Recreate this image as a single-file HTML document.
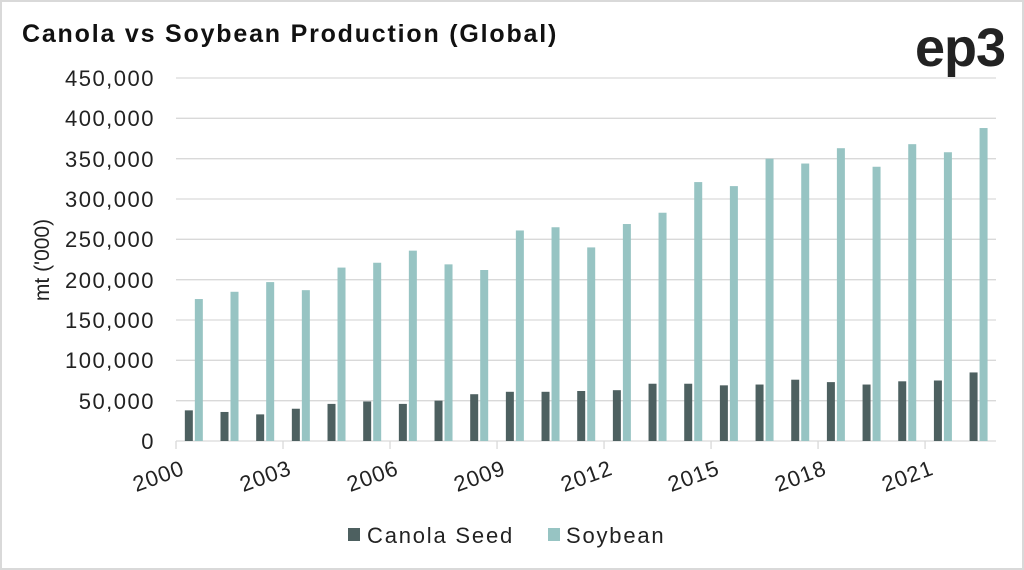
<!DOCTYPE html>
<html><head><style>
body{margin:0;background:#fff;}
svg{display:block;font-family:"Liberation Sans",sans-serif;}
</style></head><body>
<svg width="1024" height="570" xmlns="http://www.w3.org/2000/svg">
<rect x="1" y="1" width="1022" height="568" fill="#fff" stroke="#d9d9d9" stroke-width="2"/>
<text x="22" y="42" font-size="25" font-weight="bold" fill="#111" letter-spacing="1.8">Canola vs Soybean Production (Global)</text>
<text x="1005" y="66" font-size="54" font-weight="bold" fill="#222" text-anchor="end" letter-spacing="-1">ep3</text>
<g stroke="#d9d9d9" stroke-width="1.3">
<line x1="176" x2="996" y1="78" y2="78"/><line x1="176" x2="996" y1="118.3" y2="118.3"/>
<line x1="176" x2="996" y1="158.7" y2="158.7"/><line x1="176" x2="996" y1="199" y2="199"/>
<line x1="176" x2="996" y1="239.3" y2="239.3"/><line x1="176" x2="996" y1="279.7" y2="279.7"/>
<line x1="176" x2="996" y1="320" y2="320"/><line x1="176" x2="996" y1="360.3" y2="360.3"/>
<line x1="176" x2="996" y1="400.7" y2="400.7"/><line x1="176" x2="996" y1="441" y2="441"/>
</g>
<g font-size="22" fill="#222" text-anchor="end" letter-spacing="1.5">
<text x="155" y="86">450,000</text><text x="155" y="126">400,000</text><text x="155" y="167">350,000</text>
<text x="155" y="207">300,000</text><text x="155" y="247">250,000</text><text x="155" y="288">200,000</text>
<text x="155" y="328">150,000</text><text x="155" y="368">100,000</text><text x="155" y="409">50,000</text>
<text x="155" y="449">0</text>
</g>
<text transform="translate(49,260) rotate(-90)" font-size="21" fill="#222" text-anchor="middle">mt ('000)</text>
<g id="bars"></g>
<g id="ticks" stroke="#d9d9d9" stroke-width="1.3"></g>
<g id="xl" font-size="22" fill="#222" text-anchor="end" letter-spacing="1"></g>
<rect x="348" y="528" width="12" height="13" fill="#4d6060"/>
<text x="367" y="543" font-size="22" fill="#222" letter-spacing="1.8">Canola Seed</text>
<rect x="548" y="528" width="12" height="13" fill="#97c4c3"/>
<text x="566" y="543" font-size="22" fill="#222" letter-spacing="1.8">Soybean</text>
<script>
var soy=[176,185,197,187,215,221,236,219,212,261,265,240,269,283,321,316,350,344,363,340,368,358,388];
var can=[38,36,33,40,46,49,46,50,58,61,61,62,63,71,71,69,70,76,73,70,74,75,85];
var ns="http://www.w3.org/2000/svg",b=document.getElementById("bars"),t=document.getElementById("ticks"),xl=document.getElementById("xl");
var k=40.33/50,w=35.67;
function r(x,h,c){var e=document.createElementNS(ns,"rect");e.setAttribute("x",x);e.setAttribute("y",441-h);e.setAttribute("width",8);e.setAttribute("height",h);e.setAttribute("fill",c);b.appendChild(e);}
for(var i=0;i<23;i++){var c=176+w*i+w/2;r(c-9,can[i]*k,"#4d6060");r(c+1,soy[i]*k,"#97c4c3");}
var labs=["2000","2003","2006","2009","2012","2015","2018","2021"];
for(var j=0;j<8;j++){var x=176+j*3*w;var l=document.createElementNS(ns,"line");l.setAttribute("x1",x);l.setAttribute("x2",x);l.setAttribute("y1",441);l.setAttribute("y2",449);t.appendChild(l);
var tx=document.createElementNS(ns,"text");tx.setAttribute("transform","translate("+(x+10)+",474) rotate(-20)");tx.textContent=labs[j];xl.appendChild(tx);}
</script>
</svg>
</body></html>
